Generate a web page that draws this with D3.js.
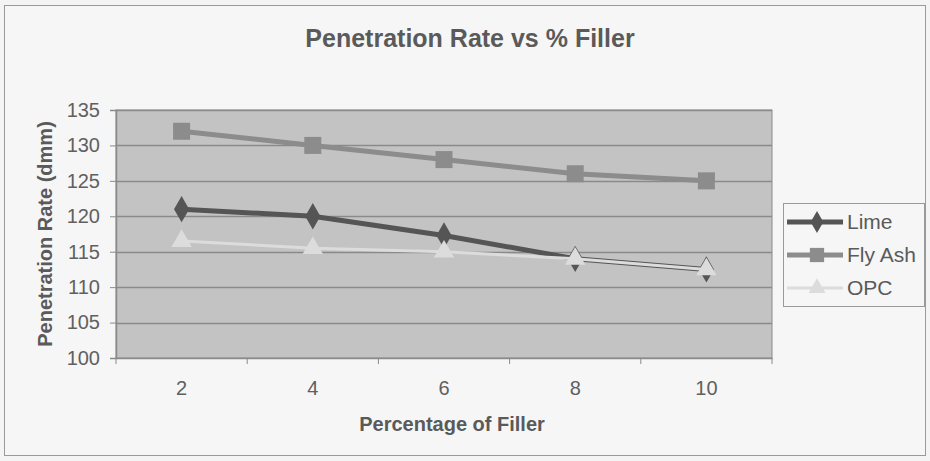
<!DOCTYPE html>
<html>
<head>
<meta charset="utf-8">
<script src="https://cdn.jsdelivr.net/npm/d3@7"></script>
<style>
  body { margin: 0; background: #f4f4f4; }
  svg { display: block; font-family: "Liberation Sans", Arial, sans-serif; }
</style>
</head>
<body>
<div id="chart"></div>
<script>
'use strict';

var fillers = ['2', '4', '6', '8', '10'];
var lime = [121, 120, 117.3, 114, 112.5];
var flyAsh = [132, 130, 128, 126, 125];
var opc = [116.5, 115.5, 115, 114, 112.5];
var yTicks = [100, 105, 110, 115, 120, 125, 130, 135];

// drawing order: later series sit on top
var series = [
    {name: 'Fly Ash', values: flyAsh, color: '#8c8c8c', width: 5, symbol: d3.symbolSquare, size: 290},
    {name: 'Lime', values: lime, color: '#555555', width: 5, symbol: d3.symbolDiamond, size: 200},
    {name: 'OPC', values: opc, color: '#dcdcdc', width: 3, symbol: d3.symbolTriangle, size: 180}
];
var legendOrder = ['Lime', 'Fly Ash', 'OPC'];

var width = 930,
    height = 461,
    plot = {left: 116, right: 772, top: 110, bottom: 358};

var svg = d3.select('#chart').append('svg')
    .attr('width', width)
    .attr('height', height);

// outer frame
svg.append('rect')
    .attr('x', 4.5).attr('y', 5.5)
    .attr('width', 921).attr('height', 450)
    .attr('fill', '#f6f6f6')
    .attr('stroke', '#9a9a9a');

var x = d3.scaleBand()
    .domain(fillers)
    .range([plot.left, plot.right]);

var y = d3.scaleLinear()
    .domain([100, 135])
    .range([plot.bottom, plot.top]);

// plot area
svg.append('rect')
    .attr('x', plot.left).attr('y', plot.top)
    .attr('width', plot.right - plot.left)
    .attr('height', plot.bottom - plot.top)
    .attr('fill', '#c3c3c3')
    .attr('stroke', '#8a8a8a');

// gridlines
svg.append('g')
    .selectAll('line')
    .data(yTicks.slice(1))
    .enter()
    .append('line')
    .attr('x1', plot.left).attr('x2', plot.right)
    .attr('y1', function(d){ return Math.round(y(d)) + 0.5; })
    .attr('y2', function(d){ return Math.round(y(d)) + 0.5; })
    .attr('stroke', '#8a8a8a')
    .attr('stroke-width', 1.5);

// y axis
var yAxis = svg.append('g')
    .attr('transform', 'translate(' + plot.left + ',0)')
    .call(d3.axisLeft(y).tickValues(yTicks).tickSize(6).tickPadding(10));

// x axis with ticks between categories
var xAxis = svg.append('g')
    .attr('transform', 'translate(0,' + plot.bottom + ')')
    .call(d3.axisBottom(x).tickSize(0).tickPadding(23));

xAxis.selectAll('.between')
    .data(d3.range(fillers.length + 1))
    .enter()
    .append('line')
    .attr('class', 'between')
    .attr('x1', function(i){ return plot.left + i * x.step(); })
    .attr('x2', function(i){ return plot.left + i * x.step(); })
    .attr('y1', 0).attr('y2', 6)
    .attr('stroke', '#8a8a8a');

[yAxis, xAxis].forEach(function(ax){
    ax.select('.domain').attr('stroke', '#8a8a8a').attr('stroke-width', 1.5);
    ax.selectAll('.tick line').attr('stroke', '#8a8a8a');
    ax.selectAll('text')
        .attr('fill', '#606060')
        .style('font-size', '20px');
});

// lines and markers
var line = d3.line()
    .x(function(d, i){ return x(fillers[i]) + x.bandwidth() / 2; })
    .y(function(d){ return y(d); });

series.forEach(function(s){
    svg.append('path')
        .datum(s.values)
        .attr('fill', 'none')
        .attr('stroke', s.color)
        .attr('stroke-width', s.width)
        .attr('d', line);

    svg.append('g')
        .selectAll('path')
        .data(s.values)
        .enter()
        .append('path')
        .attr('d', d3.symbol().type(s.symbol).size(s.size))
        .attr('transform', function(d, i){
            return 'translate(' + (x(fillers[i]) + x.bandwidth() / 2) + ',' + y(d) + ')';
        })
        .attr('fill', s.color);
});

// titles
svg.append('text')
    .attr('x', 470).attr('y', 47)
    .attr('text-anchor', 'middle')
    .attr('fill', '#5a5a5a')
    .style('font-size', '25px')
    .style('font-weight', 'bold')
    .text('Penetration Rate vs % Filler');

svg.append('text')
    .attr('x', 452).attr('y', 431)
    .attr('text-anchor', 'middle')
    .attr('fill', '#5a5a5a')
    .style('font-size', '20px')
    .style('font-weight', 'bold')
    .text('Percentage of Filler');

svg.append('text')
    .attr('transform', 'translate(52,' + (plot.top + plot.bottom) / 2 + ') rotate(-90)')
    .attr('text-anchor', 'middle')
    .attr('fill', '#5a5a5a')
    .style('font-size', '20px')
    .style('font-weight', 'bold')
    .text('Penetration Rate (dmm)');

// legend
var legend = svg.append('g')
    .attr('transform', 'translate(783,203)');

legend.append('rect')
    .attr('x', 0.5).attr('y', 0.5)
    .attr('width', 141).attr('height', 103)
    .attr('fill', '#f6f6f6')
    .attr('stroke', '#9a9a9a');

var entries = legend.selectAll('.entry')
    .data(legendOrder.map(function(n){
        return series.filter(function(s){ return s.name === n; })[0];
    }))
    .enter()
    .append('g')
    .attr('class', 'entry')
    .attr('transform', function(d, i){ return 'translate(0,' + (19 + i * 33) + ')'; });

entries.append('line')
    .attr('x1', 4).attr('x2', 60)
    .attr('stroke', function(d){ return d.color; })
    .attr('stroke-width', function(d){ return d.width; });

entries.append('path')
    .attr('transform', 'translate(34,0)')
    .attr('d', function(d){ return d3.symbol().type(d.symbol).size(d.size * 0.7)(); })
    .attr('fill', function(d){ return d.color; });

entries.append('text')
    .attr('x', 64).attr('y', 7)
    .attr('fill', '#5a5a5a')
    .style('font-size', '21px')
    .text(function(d){ return d.name; });
</script>
</body>
</html>
